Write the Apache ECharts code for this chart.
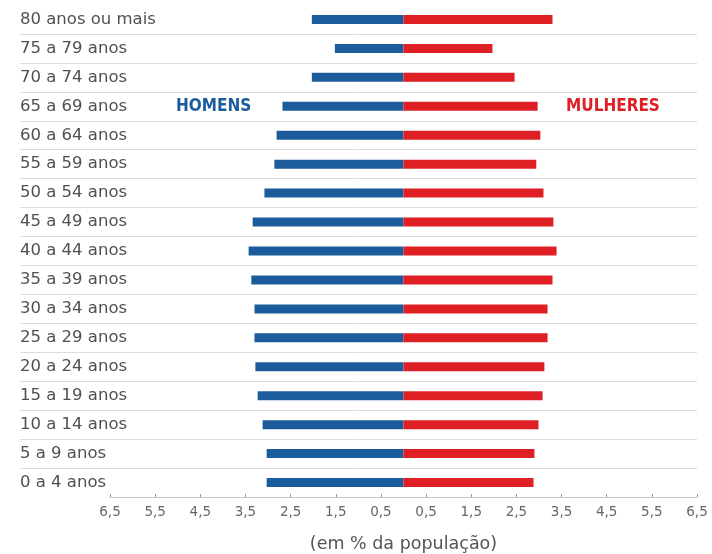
<!DOCTYPE html>
<html>
<head>
<meta charset="utf-8">
<script src="https://cdn.jsdelivr.net/npm/echarts@6/dist/echarts.min.js"></script>
<style>html,body{margin:0;padding:0;background:#fff}#c{width:712px;height:554px}</style>
</head>
<body>
<div id="c"></div>
<script>
var categories = ["0 a 4 anos","5 a 9 anos","10 a 14 anos","15 a 19 anos","20 a 24 anos","25 a 29 anos","30 a 34 anos","35 a 39 anos","40 a 44 anos","45 a 49 anos","50 a 54 anos","55 a 59 anos","60 a 64 anos","65 a 69 anos","70 a 74 anos","75 a 79 anos","80 anos ou mais"];
var homens = [3.03, 3.03, 3.12, 3.23, 3.28, 3.30, 3.30, 3.37, 3.43, 3.34, 3.08, 2.86, 2.81, 2.68, 2.03, 1.52, 2.03];
var mulheres = [2.88, 2.90, 2.99, 3.08, 3.12, 3.19, 3.19, 3.30, 3.39, 3.32, 3.10, 2.94, 3.03, 2.97, 2.46, 1.97, 3.30];

var chart = echarts.init(document.getElementById('c'));
var lbl = "'DejaVu Sans', sans-serif";
var top0 = 5, bottom0 = 57;
var band = (554 - top0 - bottom0) / categories.length;
chart.setOption({
  animation: false,
  grid: [
    {left: 110, right: 15, top: top0, bottom: bottom0, outerBoundsMode: 'none', containLabel: false},
    {left: 20, right: 15, top: top0 + band, bottom: bottom0 + band, outerBoundsMode: 'none', containLabel: false}
  ],
  xAxis: [
    {
      gridIndex: 0, type: 'value', min: -6.5, max: 6.5, interval: 1,
      name: '(em % da população)', nameLocation: 'middle', nameGap: 38,
      nameTextStyle: {color: '#555', fontSize: 17.5, fontFamily: lbl},
      axisLine: {show: true, lineStyle: {color: '#c4c4c4'}},
      axisTick: {show: true, length: 3, inside: true, lineStyle: {color: '#999'}},
      splitLine: {show: false},
      axisLabel: {color: '#666', fontSize: 13.5, fontFamily: lbl, margin: 8,
        formatter: function(v){ return Math.abs(v).toFixed(1).replace('.', ','); }}
    },
    {gridIndex: 1, type: 'value', min: 0, max: 1, show: false}
  ],
  yAxis: [
    {
      gridIndex: 0, type: 'category', data: categories,
      axisLine: {show: false}, axisTick: {show: false}, splitLine: {show: false},
      axisLabel: {align: 'left', margin: 90, color: '#505050', fontSize: 16.5, fontFamily: lbl}
    },
    {
      gridIndex: 1, type: 'category', data: categories.slice(1, categories.length - 1),
      axisLine: {show: false}, axisTick: {show: false}, axisLabel: {show: false},
      splitLine: {show: true, lineStyle: {color: '#dcdcdc', width: 1}}
    }
  ],
  series: [
    {
      name: 'Homens', type: 'bar', xAxisIndex: 0, yAxisIndex: 0, barWidth: 9, barGap: '-100%',
      itemStyle: {color: '#1d5c9c'},
      data: homens.map(function(v){ return -v; })
    },
    {
      name: 'Mulheres', type: 'bar', xAxisIndex: 0, yAxisIndex: 0, barWidth: 9, barGap: '-100%',
      itemStyle: {color: '#de1f24'},
      data: mulheres
    },
    {type: 'bar', xAxisIndex: 1, yAxisIndex: 1, data: [], silent: true}
  ],
  graphic: [
    {type: 'text', left: 176, top: 98, z: 10, style: {text: 'HOMENS', fill: '#1d5c9c', font: "bold 17px 'Liberation Sans Narrow', 'DejaVu Sans Condensed', sans-serif"}},
    {type: 'text', left: 566, top: 98, z: 10, style: {text: 'MULHERES', fill: '#de1f24', font: "bold 17px 'Liberation Sans Narrow', 'DejaVu Sans Condensed', sans-serif"}}
  ]
});
</script>
</body>
</html>
